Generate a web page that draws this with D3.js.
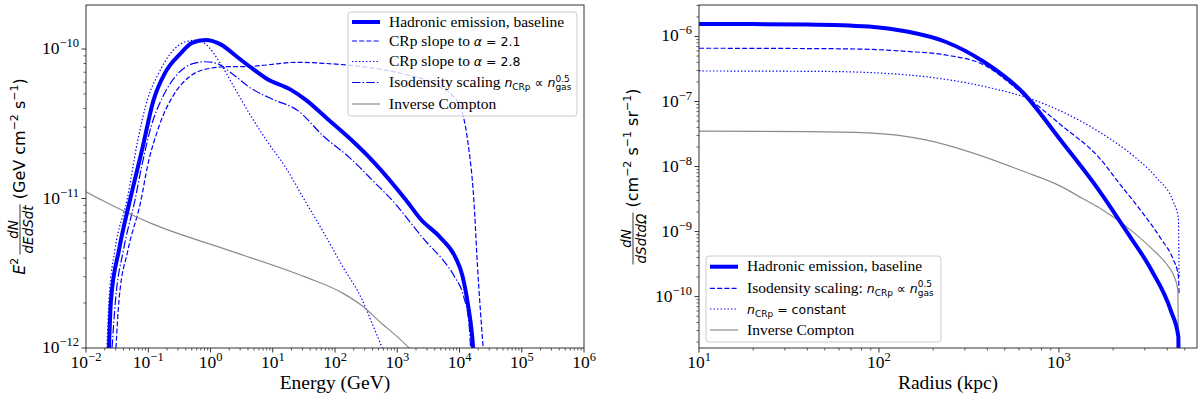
<!DOCTYPE html>
<html>
<head>
<meta charset="utf-8">
<script src="https://cdn.jsdelivr.net/npm/d3@7"></script>
<style>body{margin:0;background:#fff} text{white-space:pre}</style>
</head>
<body>
<div id="chart"></div>
<script>
// ---------- left panel: gamma-ray spectrum, E^2 dN/dEdSdt (GeV cm^-2 s^-1) vs energy (GeV)
const energyTicks = [1e-2, 1e-1, 1e0, 1e1, 1e2, 1e3, 1e4, 1e5, 1e6];
const energyExp = ["\u22122", "\u22121", "0", "1", "2", "3", "4", "5", "6"];
const spectrumTicks = [1e-12, 1e-11, 1e-10];
const spectrumExp = ["\u221212", "\u221211", "\u221210"];

const baseE = [0.0234, 0.0252, 0.0339, 0.0509, 0.0794, 0.122, 0.186, 0.329, 0.505, 0.83, 1.48, 2.63, 4.68, 8.13, 19.1, 33.9, 79.4, 186, 437, 1380, 2400, 4900, 8510, 11200, 13800, 15800, 16600];
const baseF = [1.0e-12, 2.09e-12, 4.53e-12, 9.77e-12, 2.11e-11, 4.57e-11, 6.92e-11, 9.33e-11, 1.10e-10, 1.15e-10, 1.07e-10, 8.91e-11, 7.41e-11, 6.31e-11, 5.37e-11, 4.57e-11, 3.35e-11, 2.45e-11, 1.72e-11, 9.77e-12, 7.24e-12, 5.50e-12, 4.07e-12, 3.02e-12, 1.91e-12, 1.26e-12, 1.0e-12];

const slope21E = [0.0303, 0.0339, 0.0473, 0.0766, 0.0968, 0.148, 0.262, 0.461, 0.94, 1.91, 3.89, 7.94, 24.5, 66, 275, 1135, 4680, 9550, 13500, 17000, 19500, 24000];
const slope21F = [1e-12, 2.09e-12, 4.53e-12, 9.77e-12, 1.63e-11, 3.02e-11, 5.01e-11, 6.53e-11, 7.41e-11, 7.62e-11, 7.62e-11, 7.82e-11, 8.15e-11, 8.02e-11, 7.62e-11, 6.87e-11, 5.62e-11, 4.37e-11, 2.45e-11, 9.77e-12, 3.47e-12, 1e-12];

const slope28E = [0.0217, 0.0234, 0.0292, 0.0456, 0.0679, 0.0968, 0.148, 0.227, 0.401, 0.617, 0.875, 1.44, 2.51, 4.47, 7.94, 16.0, 32.4, 66.1, 135, 275, 417, 575];
const slope28F = [1e-12, 2.09e-12, 4.53e-12, 9.77e-12, 2.45e-11, 4.57e-11, 6.92e-11, 9.33e-11, 1.12e-10, 1.15e-10, 1.06e-10, 8.02e-11, 5.37e-11, 3.55e-11, 2.45e-11, 1.62e-11, 9.77e-12, 5.89e-12, 3.47e-12, 2.09e-12, 1.38e-12, 1e-12];

const isoE = [0.0262, 0.0298, 0.040, 0.0612, 0.0782, 0.111, 0.171, 0.302, 0.537, 0.813, 1.25, 2.20, 4.47, 10.5, 24.5, 66.1, 178, 417, 977, 1320, 3090, 5370, 8320, 11700, 14100, 15100];
const isoF = [1e-12, 2.09e-12, 4.53e-12, 9.77e-12, 1.63e-11, 3.02e-11, 4.79e-11, 6.87e-11, 8.02e-11, 8.22e-11, 8.02e-11, 6.87e-11, 5.46e-11, 4.57e-11, 3.91e-11, 2.6e-11, 1.85e-11, 1.3e-11, 9.0e-12, 7.7e-12, 5.0e-12, 3.9e-12, 3.0e-12, 2.2e-12, 1.5e-12, 1e-12];

const icE = [0.01, 0.0178, 0.111, 1.91, 32.4, 135, 275, 562, 977, 1550];
const icF = [1.11e-11, 9.77e-12, 6.82e-12, 4.52e-12, 3.0e-12, 2.32e-12, 1.91e-12, 1.46e-12, 1.20e-12, 1e-12];

// ---------- right panel: surface brightness profile vs radius (kpc)
const radiusTicks = [1e1, 1e2, 1e3];
const radiusExp = ["1", "2", "3"];
const profileTicks = [1e-10, 1e-9, 1e-8, 1e-7, 1e-6];
const profileExp = ["\u221210", "\u22129", "\u22128", "\u22127", "\u22126"];

const profBaseR = [10, 20, 40, 88, 143, 234, 382, 626, 1020, 1680, 2390, 3245, 4190, 4610, 4650];
const profBaseS = [1.55e-6, 1.55e-6, 1.53e-6, 1.42e-6, 1.19e-6, 8.3e-7, 4.09e-7, 1.4e-7, 2.56e-8, 4.2e-9, 9.8e-10, 2.63e-10, 6.03e-11, 2.4e-11, 1e-12];

const profIsoR = [10, 50, 87, 143, 234, 383, 623, 1026, 1680, 2180, 2840, 3690, 4300, 4610, 4650];
const profIsoS = [6.6e-7, 6.5e-7, 6.35e-7, 5.9e-7, 5.2e-7, 3.65e-7, 1.35e-7, 4.36e-8, 1.35e-8, 5.37e-9, 2.14e-9, 7.76e-10, 3.8e-10, 2.09e-10, 1.1e-10];

const profConstR = [10, 50, 143, 385, 730, 1680, 2630, 3480, 4300, 4610, 4650];
const profConstS = [2.95e-7, 2.9e-7, 2.57e-7, 1.70e-7, 1.05e-7, 3.39e-8, 1.41e-8, 6.76e-9, 2.95e-9, 1.62e-9, 2.0e-10];

const profIcR = [10, 40, 87, 182, 385, 623, 1020, 1370, 1690, 2390, 3245, 4040, 4300, 4580, 4650];
const profIcS = [3.5e-8, 3.45e-8, 3.3e-8, 2.57e-8, 1.41e-8, 8.6e-9, 5.0e-9, 3.16e-9, 2.29e-9, 1.17e-9, 5.6e-10, 2.95e-10, 2.24e-10, 1.26e-10, 1e-12];

const SERIF = "'Liberation Serif', serif";
const SANS = "'DejaVu Sans', sans-serif";
const TICK = 17.5, TSUP = 12.5, TITLE = 19.5, LS = 15.5;
const MS = 12.5; // mathtext size in legend
const BLUE = "#0000ff", GREY = "#8c8c8c", AXIS = "#333";

var svg = d3.select("#chart").append("svg")
    .attr("width", 1200).attr("height", 398)
    .style("background", "#fff");

// text made of pieces (serif / sans / italic / sub / sup / fraction), laid out left to right
function rich(g, x, y, parts, anchor) {
    const grp = g.append("g");
    let cx = 0;
    const put = (t, px, py, f, it, s) => grp.append("text")
        .attr("x", px).attr("y", py)
        .style("font-family", f).style("font-style", it ? "italic" : "normal")
        .style("font-size", s + "px").style("white-space", "pre")
        .attr("fill", "#000").text(t);
    parts.forEach(p => {
        if (p.frac) {
            const s = p.s, bar = -p.bar;
            const n = put(p.frac[0], cx, bar - 2.5, SANS, true, s);
            const d = put(p.frac[1], cx, bar + 2.5 + s * 0.74, SANS, true, s);
            const wn = n.node().getComputedTextLength(), wd = d.node().getComputedTextLength();
            const w = Math.max(wn, wd) + 2;
            n.attr("x", cx + (w - wn) / 2);
            d.attr("x", cx + (w - wd) / 2);
            grp.append("line").attr("x1", cx).attr("x2", cx + w)
                .attr("y1", bar).attr("y2", bar).attr("stroke", "#000").attr("stroke-width", 0.8);
            cx += w;
            return;
        }
        const el = put(p.t, cx, p.dy || 0, p.f || SERIF, p.it, p.s);
        if (!p.stay) cx += el.node().getComputedTextLength();
    });
    let off = 0;
    if (anchor === "middle") off = -cx / 2;
    if (anchor === "end") off = -cx;
    grp.attr("transform", "translate(" + (x + off) + "," + y + ")");
    return grp;
}

function logTicks(dom) {
    const out = [];
    for (let e = Math.floor(Math.log10(dom[0])); e <= Math.ceil(Math.log10(dom[1])); e++) {
        for (let k = 1; k < 10; k++) {
            const v = k * Math.pow(10, e);
            if (v >= dom[0] * 0.999 && v <= dom[1] * 1.001) out.push({ v: v, major: k === 1 });
        }
    }
    return out;
}

function drawPanel(o) {
    const x = d3.scaleLog().domain(o.xDom).range([o.left, o.right]);
    const y = d3.scaleLog().domain(o.yDom).range([o.bottom, o.top]);
    const g = svg.append("g");

    g.append("clipPath").attr("id", "clip" + o.id)
        .append("rect").attr("x", o.left).attr("y", o.top)
        .attr("width", o.right - o.left).attr("height", o.bottom - o.top);

    const line = d3.line().x(d => x(d[0])).y(d => y(d[1])).curve(d3.curveMonotoneX);

    o.series.forEach(s => {
        g.append("path")
            .datum(d3.zip(s.x, s.y))
            .attr("clip-path", "url(#clip" + o.id + ")")
            .attr("fill", "none")
            .attr("stroke", s.color)
            .attr("stroke-width", s.w)
            .attr("stroke-dasharray", s.dash)
            .attr("d", line);
    });

    // frame
    g.append("rect")
        .attr("x", o.left).attr("y", o.top)
        .attr("width", o.right - o.left).attr("height", o.bottom - o.top)
        .attr("fill", "none").attr("stroke", AXIS).attr("stroke-width", 1);

    // x ticks
    logTicks(o.xDom).forEach(t => {
        g.append("line").attr("x1", x(t.v)).attr("x2", x(t.v))
            .attr("y1", o.bottom).attr("y2", o.bottom + (t.major ? 4.5 : 2.5))
            .attr("stroke", AXIS).attr("stroke-width", t.major ? 1 : 0.8);
    });
    o.xTicks.forEach((v, i) => {
        rich(g, x(v), o.bottom + 20, [{ t: "10", s: TICK }, { t: o.xExp[i], s: TSUP, dy: -7 }], "middle");
    });

    // y ticks
    logTicks(o.yDom).forEach(t => {
        g.append("line").attr("y1", y(t.v)).attr("y2", y(t.v))
            .attr("x1", o.left).attr("x2", o.left - (t.major ? 4.5 : 2.5))
            .attr("stroke", AXIS).attr("stroke-width", t.major ? 1 : 0.8);
    });
    o.yTicks.forEach((v, i) => {
        rich(g, o.left - 7, y(v) + 5, [{ t: "10", s: TICK }, { t: o.yExp[i], s: TSUP, dy: -7 }], "end");
    });

    // axis titles
    rich(g, (o.left + o.right) / 2, 389, [{ t: o.xTitle, s: TITLE }], "middle");
    const yl = g.append("g").attr("transform", "translate(" + o.yTitleX + "," + ((o.top + o.bottom) / 2) + ") rotate(-90)");
    rich(yl, 0, 0, o.yTitle, "middle");

    // legend
    const L = o.legend;
    g.append("rect").attr("x", L.x).attr("y", L.y).attr("width", L.w).attr("height", L.h)
        .attr("rx", 3).attr("fill", "#fff").attr("fill-opacity", 0.8)
        .attr("stroke", "#cccccc").attr("stroke-width", 1);
    L.rows.forEach((r, i) => {
        const cy = L.rowY[i];
        g.append("line").attr("x1", L.x + 4).attr("x2", L.x + 32).attr("y1", cy).attr("y2", cy)
            .attr("stroke", r.color).attr("stroke-width", r.w).attr("stroke-dasharray", r.dash);
        rich(g, L.x + 41, cy + 4.5, r.text, "start");
    });
}

const baseStyle = { color: BLUE, w: 4, dash: null };
const dashStyle = { color: BLUE, w: 1.2, dash: "5,2.2" };
const dotStyle = { color: BLUE, w: 1.2, dash: "1.4,2.1" };
const dashDotStyle = { color: BLUE, w: 1.2, dash: "8.5,2.2,1.4,2.2" };
const icStyle = { color: GREY, w: 1.2, dash: null };

const nCRp = [
    { t: "n", f: SANS, it: true, s: MS },
    { t: "CRp", f: SANS, s: 9, dy: 3 }
];
const nGas = [
    { t: "n", f: SANS, it: true, s: MS },
    { t: "0.5", f: SANS, s: 9, dy: -5.5, stay: true },
    { t: "gas", f: SANS, s: 9, dy: 3 }
];

drawPanel({
    id: "spec", left: 86, right: 584, top: 5, bottom: 348,
    xDom: [1e-2, 1e6], yDom: [1e-12, 1.97e-10],
    xTicks: energyTicks, xExp: energyExp, yTicks: spectrumTicks, yExp: spectrumExp,
    xTitle: "Energy (GeV)",
    yTitleX: 25,
    yTitle: [
        { t: "E", f: SANS, it: true, s: 16 },
        { t: "2", f: SANS, s: 11, dy: -7 },
        { t: " ", f: SANS, s: 10 },
        { frac: ["dN", "dEdSdt"], s: 13.5, bar: 5 },
        { t: " (GeV cm", f: SANS, s: 16 },
        { t: "\u22122", f: SANS, s: 11, dy: -7 },
        { t: " s", f: SANS, s: 16 },
        { t: "\u22121", f: SANS, s: 11, dy: -7 },
        { t: ")", f: SANS, s: 16 }
    ],
    series: [
        Object.assign({ x: slope21E, y: slope21F }, dashStyle),
        Object.assign({ x: slope28E, y: slope28F }, dotStyle),
        Object.assign({ x: isoE, y: isoF }, dashDotStyle),
        Object.assign({ x: icE, y: icF }, icStyle),
        Object.assign({ x: baseE, y: baseF }, baseStyle)
    ],
    legend: {
        x: 348, y: 12, w: 229, h: 104,
        rowY: [22, 41, 61.5, 82.5, 104],
        rows: [
            Object.assign({ text: [{ t: "Hadronic emission, baseline", s: LS }] }, baseStyle),
            Object.assign({ text: [{ t: "CRp slope to ", s: LS }, { t: "\u03b1", f: SANS, it: true, s: MS }, { t: " = 2.1", f: SANS, s: MS }] }, dashStyle),
            Object.assign({ text: [{ t: "CRp slope to ", s: LS }, { t: "\u03b1", f: SANS, it: true, s: MS }, { t: " = 2.8", f: SANS, s: MS }] }, dotStyle),
            Object.assign({ text: [{ t: "Isodensity scaling ", s: LS }].concat(nCRp, [{ t: " \u221d ", f: SANS, s: MS }], nGas) }, dashDotStyle),
            Object.assign({ text: [{ t: "Inverse Compton", s: LS }] }, icStyle)
        ]
    }
});

drawPanel({
    id: "prof", left: 699, right: 1197, top: 5, bottom: 348,
    xDom: [10, 5850], yDom: [1.62e-11, 3.05e-6],
    xTicks: radiusTicks, xExp: radiusExp, yTicks: profileTicks, yExp: profileExp,
    xTitle: "Radius (kpc)",
    yTitleX: 638,
    yTitle: [
        { frac: ["dN", "dSdtd\u03a9"], s: 13.5, bar: 5 },
        { t: " (cm", f: SANS, s: 16 },
        { t: "\u22122", f: SANS, s: 11, dy: -7 },
        { t: " s", f: SANS, s: 16 },
        { t: "\u22121", f: SANS, s: 11, dy: -7 },
        { t: " sr", f: SANS, s: 16 },
        { t: "\u22121", f: SANS, s: 11, dy: -7 },
        { t: ")", f: SANS, s: 16 }
    ],
    series: [
        Object.assign({ x: profIsoR, y: profIsoS }, dashStyle),
        Object.assign({ x: profConstR, y: profConstS }, dotStyle),
        Object.assign({ x: profIcR, y: profIcS }, icStyle),
        Object.assign({ x: profBaseR, y: profBaseS }, baseStyle)
    ],
    legend: {
        x: 706, y: 256, w: 235, h: 86,
        rowY: [266.7, 288.3, 309, 330],
        rows: [
            Object.assign({ text: [{ t: "Hadronic emission, baseline", s: LS }] }, baseStyle),
            Object.assign({ text: [{ t: "Isodensity scaling: ", s: LS }].concat(nCRp, [{ t: " \u221d ", f: SANS, s: MS }], nGas) }, dashStyle),
            Object.assign({ text: nCRp.concat([{ t: " = constant", f: SANS, s: MS }]) }, dotStyle),
            Object.assign({ text: [{ t: "Inverse Compton", s: LS }] }, icStyle)
        ]
    }
});
</script>
</body>
</html>
